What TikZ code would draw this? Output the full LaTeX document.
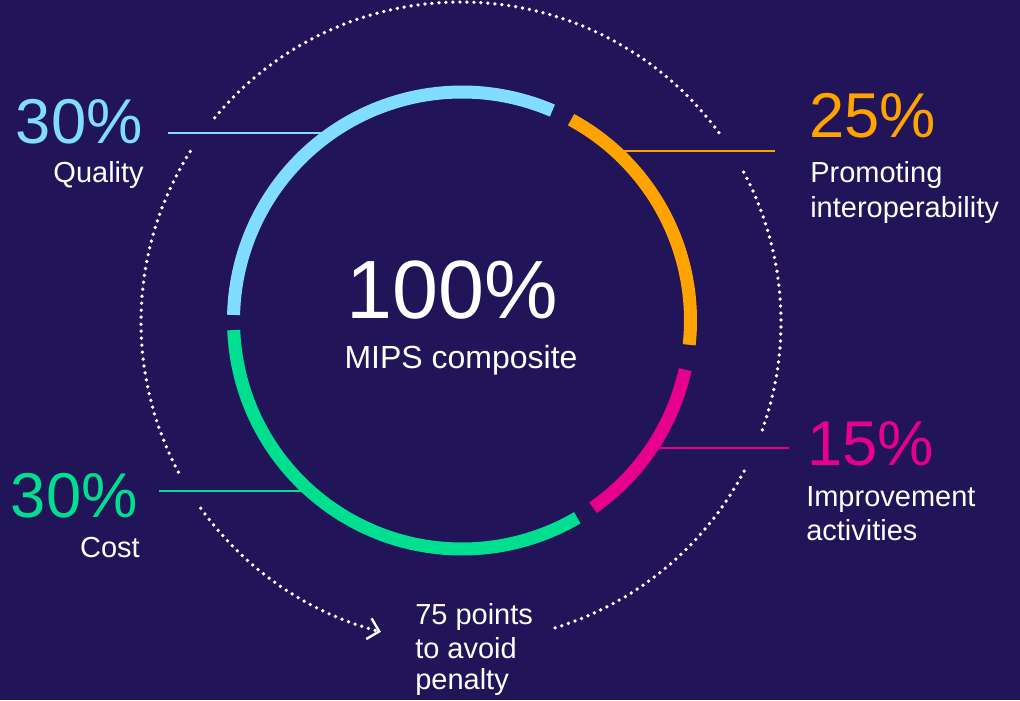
\documentclass[tikz,border=0pt]{standalone}
\usepackage{fontspec}
\setmainfont{Liberation Sans}
\usetikzlibrary{arrows.meta}
\definecolor{bg}{RGB}{33,20,88}
\definecolor{qblue}{RGB}{128,221,255}
\definecolor{porange}{RGB}{255,163,0}
\definecolor{ipink}{RGB}{230,0,138}
\definecolor{cgreen}{RGB}{0,222,144}
\begin{document}
\begin{tikzpicture}[x=0.75pt,y=-0.75pt,
  seg/.style={line width=9.75pt},
  leader/.style={line width=1.6pt},
  dots/.style={white,line width=2.8pt,line cap=round,dash pattern=on 0pt off 5.25pt},
  big/.style={inner sep=0pt,font=\fontsize{47.5}{47.5}\selectfont},
  huge/.style={inner sep=0pt,text=white,font=\fontsize{62}{62}\selectfont},
  lbl/.style={inner sep=0pt,text=white,font=\fontsize{21.75}{26}\selectfont},
  mid/.style={inner sep=0pt,text=white,font=\fontsize{24}{28}\selectfont},
]
\fill[bg] (0,0) rectangle (1020,700);
\useasboundingbox (0,0) rectangle (1020,700);
\coordinate (c) at (462,320.5);
\coordinate (o) at (461,322);

% outer dotted ring
\draw[dots] (o) ++(-36.3:320) arc[start angle=-36.3,end angle=-141.3,radius=320];
\draw[dots] (o) ++(-147.8:320) arc[start angle=-147.8,end angle=-208.2,radius=320];
\draw[dots,-{Straight Barb[length=8pt,width=16pt,line width=1.8pt]}] (o) ++(-215.6:320) arc[start angle=-215.6,end angle=-255.5,radius=320];
\draw[dots] (o) ++(72.9:320) arc[start angle=72.9,end angle=27.1,radius=320];
\draw[dots] (o) ++(19.7:320) arc[start angle=19.7,end angle=-28.8,radius=320];

% leader lines
\coordinate (qa) at (168,133); \coordinate (qb) at (331,133);
\coordinate (pa) at (615,151); \coordinate (pb) at (775,151);
\coordinate (ia) at (652,448); \coordinate (ib) at (789,448);
\coordinate (ca) at (159,491); \coordinate (cb) at (310,491);
\draw[leader,qblue] (qa) -- (qb);
\draw[leader,porange] (pa) -- (pb);
\draw[leader,ipink] (ia) -- (ib);
\draw[leader,cgreen] (ca) -- (cb);

% main ring
\draw[seg,qblue] (c) ++(-66.7:228.5) arc[start angle=-66.7,end angle=-178.6,radius=228.5];
\draw[seg,cgreen] (c) ++(-182.4:228.5) arc[start angle=-182.4,end angle=-300.3,radius=228.5];
\draw[seg,ipink] (c) ++(-305:228.5) arc[start angle=-305,end angle=-347.6,radius=228.5];
\draw[seg,porange] (c) ++(6.1:228.5) arc[start angle=6.1,end angle=-61.5,radius=228.5];

% texts
\node[huge,anchor=base] (tot) at (452,318) {100\%};
\node[mid,anchor=base] (totl) at (461,368) {MIPS composite};

\node[big,text=qblue,anchor=base east] (q) at (143,143) {30\%};
\node[lbl,anchor=base east] (ql) at (144,182) {Quality};

\node[big,text=porange,anchor=base west] (p) at (809,137) {25\%};
\node[lbl,anchor=base west] (pl1) at (810,182) {Promoting};
\node[lbl,anchor=base west] (pl2) at (810,217) {interoperability};

\node[big,text=ipink,anchor=base west] (i) at (807,465) {15\%};
\node[lbl,anchor=base west] (il1) at (806,506) {Improvement};
\node[lbl,anchor=base west] (il2) at (806,540) {activities};

\node[big,text=cgreen,anchor=base east] (cc) at (138,517) {30\%};
\node[lbl,anchor=base east] (cl) at (140,557) {Cost};

\node[lbl,anchor=base west] (n1) at (415,624) {75 points};
\node[lbl,anchor=base west] (n2) at (415,658) {to avoid};
\node[lbl,anchor=base west] (n3) at (415,689) {penalty};
\end{tikzpicture}
\end{document}
